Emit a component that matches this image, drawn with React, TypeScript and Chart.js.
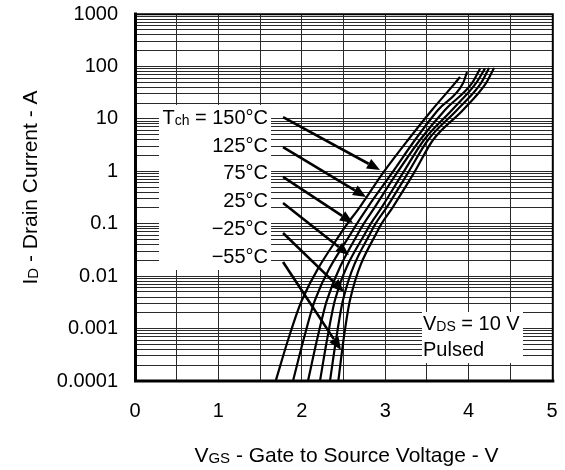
import React, { useEffect, useRef } from 'react';
import { Chart, registerables } from 'chart.js';

Chart.register(...registerables);

// ---- Data ----
const TEMP_LABELS = ['150°C', '125°C', '75°C', '25°C', '\u221225°C', '\u221255°C'];

const VGS_150 = [1.687, 1.835, 2.002, 2.494, 2.698, 2.974, 3.273, 3.561, 3.837, 3.897];
const ID_150 = [0.0001, 0.000605, 0.0035, 0.076, 0.21, 0.93, 3.95, 14.8, 48, 63];

const VGS_125 = [1.894, 2.02, 2.158, 2.614, 2.794, 3.082, 3.357, 3.633, 3.933, 3.981];
const ID_125 = [0.0001, 0.000605, 0.0035, 0.076, 0.21, 0.93, 3.95, 14.8, 48, 78];

const VGS_75 = [2.074, 2.182, 2.302, 2.698, 2.878, 3.141, 3.417, 3.717, 4.041, 4.137];
const ID_75 = [0.0001, 0.000605, 0.0035, 0.076, 0.21, 0.93, 3.95, 14.8, 48, 90];

const VGS_25 = [2.218, 2.302, 2.398, 2.782, 2.962, 3.213, 3.465, 3.801, 4.089, 4.197];
const ID_25 = [0.0001, 0.000605, 0.0035, 0.076, 0.21, 0.93, 3.95, 14.8, 48, 92];

const VGS_M25 = [2.338, 2.41, 2.494, 2.842, 3.022, 3.273, 3.513, 3.861, 4.149, 4.245];
const ID_M25 = [0.0001, 0.000605, 0.0035, 0.076, 0.21, 0.93, 3.95, 14.8, 48, 93];

const VGS_M55 = [2.438, 2.5, 2.578, 2.914, 3.094, 3.345, 3.573, 3.933, 4.209, 4.305];
const ID_M55 = [0.0001, 0.000605, 0.0035, 0.076, 0.21, 0.93, 3.95, 14.8, 48, 93];

const CURVES_V = [VGS_150, VGS_125, VGS_75, VGS_25, VGS_M25, VGS_M55];
const CURVES_I = [ID_150, ID_125, ID_75, ID_25, ID_M25, ID_M55];

// Arrows (data units: V, A)
const ARROW_FROM_V = [1.775, 1.775, 1.775, 1.775, 1.775, 1.775];
const ARROW_FROM_I = [10.8, 2.9, 0.78, 0.248, 0.0666, 0.0186];
const ARROW_TO_V = [2.938, 2.77, 2.614, 2.566, 2.506, 2.47];
const ARROW_TO_I = [1.06, 0.323, 0.103, 0.0253, 0.00499, 0.00039];

// Temperature labels (right edge V, vertical centre A)
const LABEL_RIGHT_V = 1.595;
const LABEL_CENTER_I = [10.8, 3.17, 0.97, 0.283, 0.0828, 0.0242];
const LEGEND_BOX_V = [0.288, 1.631];
const LEGEND_BOX_I = [0.0131, 18.4];

// Condition note
const NOTE_BOX_V = [3.441, 4.652];
const NOTE_BOX_I = [0.00022, 0.00207];
const NOTE_LEFT_V = 3.453;
const NOTE_BASE_I = [0.00094, 0.0003];

// Axes
const X_TICKS = [0, 0.5, 1, 1.5, 2, 2.5, 3, 3.5, 4, 4.5, 5];
const X_TICK_LABELS = ['0', '', '1', '', '2', '', '3', '', '4', '', '5'];
const Y_DECADES = [0.0001, 0.001, 0.01, 0.1, 1, 10, 100, 1000];
const Y_TICK_LABELS = ['0.0001', '0.001', '0.01', '0.1', '1', '10', '100', '1000'];
const Y_MINOR_MULTIPLIERS = [2, 3, 4, 5, 6, 7, 8, 9];

const FONT_FAMILY = '"Liberation Sans", Arial, Helvetica, sans-serif';
const font = (s: number) => `${s}px ${FONT_FAMILY}`;

type Seg = { t: string; sub?: boolean };

function drawRich(ctx: CanvasRenderingContext2D, segs: Seg[], x: number, y: number, align: 'left' | 'right' | 'center', main: number, sub: number) {
  ctx.textBaseline = 'alphabetic';
  ctx.textAlign = 'left';
  const widths = segs.map((s) => {
    ctx.font = font(s.sub ? sub : main);
    return ctx.measureText(s.t).width;
  });
  const total = widths.reduce((a, b) => a + b, 0);
  let cx = align === 'left' ? x : align === 'right' ? x - total : x - total / 2;
  segs.forEach((s, i) => {
    ctx.font = font(s.sub ? sub : main);
    ctx.fillText(s.t, cx, s.sub ? y + 1 : y);
    cx += widths[i];
  });
}

function yTickValues() {
  const out: number[] = [];
  Y_DECADES.forEach((d, i) => {
    out.push(d);
    if (i < Y_DECADES.length - 1) Y_MINOR_MULTIPLIERS.forEach((m) => out.push(d * m));
  });
  return out;
}

const annotationPlugin = {
  id: 'annotations',
  beforeDatasetsDraw(chart: any) {
    const { ctx } = chart;
    const xs = chart.scales.x;
    const ys = chart.scales.y;
    ctx.save();
    ctx.fillStyle = '#ffffff';
    {
      const x0 = xs.getPixelForValue(LEGEND_BOX_V[0]);
      const x1 = xs.getPixelForValue(LEGEND_BOX_V[1]);
      const y0 = ys.getPixelForValue(LEGEND_BOX_I[1]);
      const y1 = ys.getPixelForValue(LEGEND_BOX_I[0]);
      ctx.fillRect(x0, y0, x1 - x0, y1 - y0);
    }
    {
      const x0 = xs.getPixelForValue(NOTE_BOX_V[0]);
      const x1 = xs.getPixelForValue(NOTE_BOX_V[1]);
      const y0 = ys.getPixelForValue(NOTE_BOX_I[1]);
      const y1 = ys.getPixelForValue(NOTE_BOX_I[0]);
      ctx.fillRect(x0, y0, x1 - x0, y1 - y0);
    }
    ctx.fillStyle = '#000000';
    const rx = xs.getPixelForValue(LABEL_RIGHT_V);
    TEMP_LABELS.forEach((lab, i) => {
      const cy = ys.getPixelForValue(LABEL_CENTER_I[i]) + 7;
      const segs: Seg[] = i === 0 ? [{ t: 'T' }, { t: 'ch', sub: true }, { t: ' = ' + lab }] : [{ t: lab }];
      drawRich(ctx, segs, rx, cy, 'right', 20, 14);
    });
    const nx = xs.getPixelForValue(NOTE_LEFT_V);
    drawRich(ctx, [{ t: 'V' }, { t: 'DS', sub: true }, { t: ' = 10 V' }], nx, ys.getPixelForValue(NOTE_BASE_I[0]), 'left', 20, 14);
    drawRich(ctx, [{ t: 'Pulsed' }], nx, ys.getPixelForValue(NOTE_BASE_I[1]), 'left', 20, 14);
    ctx.restore();
  },
  afterDatasetsDraw(chart: any) {
    const { ctx } = chart;
    const xs = chart.scales.x;
    const ys = chart.scales.y;
    ctx.save();
    ctx.strokeStyle = '#000';
    ctx.fillStyle = '#000';
    ctx.lineWidth = 2.6;
    for (let i = 0; i < ARROW_FROM_V.length; i++) {
      const x0 = xs.getPixelForValue(ARROW_FROM_V[i]);
      const y0 = ys.getPixelForValue(ARROW_FROM_I[i]);
      const x1 = xs.getPixelForValue(ARROW_TO_V[i]);
      const y1 = ys.getPixelForValue(ARROW_TO_I[i]);
      const ang = Math.atan2(y1 - y0, x1 - x0);
      const hl = 13;
      const hw = 5.5;
      const bx = x1 - hl * Math.cos(ang);
      const by = y1 - hl * Math.sin(ang);
      ctx.beginPath();
      ctx.moveTo(x0, y0);
      ctx.lineTo(bx, by);
      ctx.stroke();
      ctx.beginPath();
      ctx.moveTo(x1, y1);
      ctx.lineTo(bx + hw * Math.sin(ang), by - hw * Math.cos(ang));
      ctx.lineTo(bx - hw * Math.sin(ang), by + hw * Math.cos(ang));
      ctx.closePath();
      ctx.fill();
    }
    ctx.restore();
  },
  afterDraw(chart: any) {
    const { ctx, chartArea: a } = chart;
    ctx.save();
    ctx.strokeStyle = '#000';
    ctx.lineCap = 'square';
    ctx.lineWidth = 2;
    ctx.beginPath();
    ctx.moveTo(a.left, a.top + 0.3);
    ctx.lineTo(a.right + 0.8, a.top + 0.3);
    ctx.lineTo(a.right + 0.8, a.bottom);
    ctx.stroke();
    ctx.lineWidth = 3;
    ctx.beginPath();
    ctx.moveTo(a.left + 0.5, a.top);
    ctx.lineTo(a.left + 0.5, a.bottom);
    ctx.lineTo(a.right + 0.8, a.bottom);
    ctx.stroke();
    ctx.fillStyle = '#000';
    drawRich(ctx, [{ t: 'V' }, { t: 'GS', sub: true }, { t: ' - Gate to Source Voltage - V' }], (a.left + a.right) / 2 + 3, a.bottom + 81, 'center', 21, 15);
    ctx.translate(37, (a.top + a.bottom) / 2 - 10);
    ctx.rotate(-Math.PI / 2);
    drawRich(ctx, [{ t: 'I' }, { t: 'D', sub: true }, { t: ' - Drain Current - A' }], 0, 0, 'center', 21, 15);
    ctx.restore();
  },
};

const zeroPad = (s: any) => {
  s.paddingLeft = 0;
  s.paddingRight = 0;
  s.paddingTop = 0;
  s.paddingBottom = 0;
};

export default function App() {
  const ref = useRef<HTMLCanvasElement | null>(null);
  useEffect(() => {
    if (!ref.current) return;
    const datasets = CURVES_V.map((vs, k) => ({
      label: TEMP_LABELS[k],
      data: vs.map((v, i) => ({ x: v, y: CURVES_I[k][i] })),
      borderColor: '#000',
      borderWidth: 2.2,
      pointRadius: 0,
      fill: false,
      cubicInterpolationMode: 'monotone' as const,
    }));
    const chart = new Chart(ref.current, {
      type: 'line',
      data: { datasets },
      options: {
        responsive: false,
        animation: false,
        events: [],
        layout: { padding: { left: 0, right: 13, top: 14, bottom: 0 } },
        plugins: { legend: { display: false }, tooltip: { enabled: false }, title: { display: false } },
        scales: {
          x: {
            type: 'linear',
            min: 0,
            max: 5,
            afterBuildTicks: (s: any) => {
              s.ticks = X_TICKS.map((v) => ({ value: v }));
            },
            afterFit: (s: any) => {
              s.height = 89;
              zeroPad(s);
            },
            ticks: {
              autoSkip: false,
              maxRotation: 0,
              padding: 18,
              color: '#000',
              font: { family: FONT_FAMILY, size: 20 },
              callback: (_v: any, i: number) => X_TICK_LABELS[i],
            },
            grid: { color: '#2a2a2a', lineWidth: 1, drawTicks: false },
            border: { display: false },
          },
          y: {
            type: 'logarithmic',
            min: 0.0001,
            max: 1000,
            afterBuildTicks: (s: any) => {
              s.ticks = yTickValues().map((v) => ({ value: v }));
            },
            afterFit: (s: any) => {
              s.width = 135;
              zeroPad(s);
            },
            ticks: {
              autoSkip: false,
              padding: 17,
              color: '#000',
              font: { family: FONT_FAMILY, size: 20 },
              callback: (v: any) => {
                const idx = Y_DECADES.findIndex((d) => Math.abs(Math.log10(Number(v)) - Math.log10(d)) < 1e-6);
                return idx >= 0 ? Y_TICK_LABELS[idx] : '';
              },
            },
            grid: { color: '#2a2a2a', lineWidth: 1, drawTicks: false },
            border: { display: false },
          },
        },
      },
      plugins: [annotationPlugin],
    });
    return () => chart.destroy();
  }, []);
  return (
    <div style={{ position: 'absolute', left: 0, top: 0, width: 565, height: 470, background: '#fff' }}>
      <canvas ref={ref} width={565} height={470} style={{ display: 'block' }} />
    </div>
  );
}
